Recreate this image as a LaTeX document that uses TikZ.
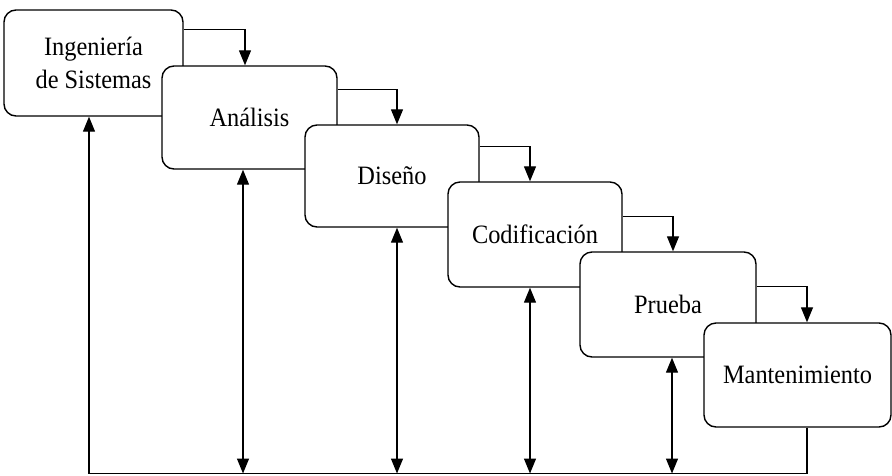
\documentclass[tikz,border=0pt]{standalone}
\usepackage{fontspec}
\setmainfont{Liberation Serif}[FakeStretch=0.92]
\usetikzlibrary{arrows.meta}
\begin{document}
\begin{tikzpicture}[x=1pt,y=-1pt,
  phase/.style={draw=black, fill=white, line width=1.4pt, rounded corners=12pt,
    inner sep=0pt, align=center, font=\fontsize{26.5}{33}\selectfont},
  tip/.style={Triangle[length=15pt,width=12pt]},
  flow/.style={line width=1.3pt, -{Triangle[length=15pt,width=12pt]}},
  both/.style={line width=1.3pt, {Triangle[length=15pt,width=12pt]}-{Triangle[length=15pt,width=12pt]}}]
\useasboundingbox (0,0) rectangle (892,475);

% cascade of phases, each one overlapping the previous
\node[phase, minimum width=179pt, minimum height=106pt] (B1) at (93.5,63) {Ingeniería\\de Sistemas};
\node[phase, minimum width=175pt, minimum height=103pt] (B2) at (249.5,117.5) {Análisis};
\node[phase, minimum width=174pt, minimum height=102pt] (B3) at (392,176) {Diseño};
\node[phase, minimum width=174pt, minimum height=105pt] (B4) at (535,234.5) {Codificación};
\node[phase, minimum width=176pt, minimum height=105pt] (B5) at (668,304.5) {Prueba};
\node[phase, minimum width=187pt, minimum height=104pt] (B6) at (797.5,375) {Mantenimiento};

% forward steps (yshift is in page units: negative goes down)
\draw[flow] ([yshift=-20pt]B1.north east) -| ([xshift=-4.5pt]B2.north);
\draw[flow] ([yshift=-24pt]B2.north east) -| ([xshift=5pt]B3.north);
\draw[flow] ([yshift=-22pt]B3.north east) -| ([xshift=-5pt]B4.north);
\draw[flow] ([yshift=-35pt]B4.north east) -| ([xshift=5pt]B5.north);
\draw[flow] ([yshift=-35pt]B5.north east) -| ([xshift=9.5pt]B6.north);

% feedback loop along the bottom
\coordinate (base) at (0,473.5);
\draw[flow] ([xshift=9.5pt]B6.south) |- ([xshift=-4.5pt]B1.south |- base) -- ([xshift=-4.5pt]B1.south);
\draw[both] ([xshift=-6.5pt]B2.south) -- ([xshift=-6.5pt]B2.south |- base);
\draw[both] ([xshift=5pt]B3.south) -- ([xshift=5pt]B3.south |- base);
\draw[both] ([xshift=-5pt]B4.south) -- ([xshift=-5pt]B4.south |- base);
\draw[both] ([xshift=4pt]B5.south) -- ([xshift=4pt]B5.south |- base);
\end{tikzpicture}
\end{document}
